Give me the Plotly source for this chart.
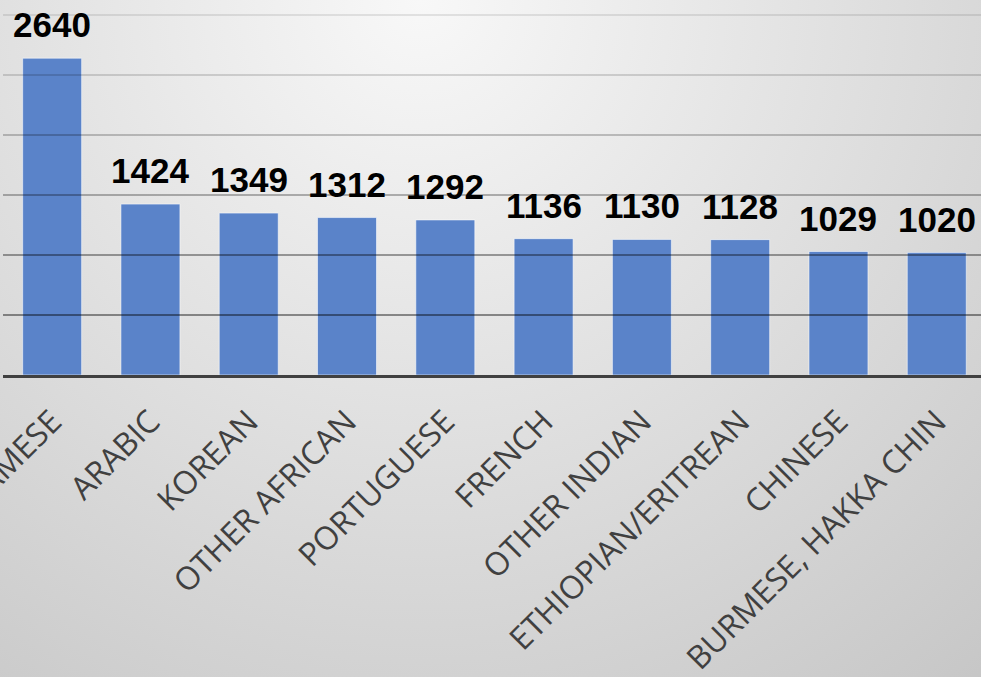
import base64
import plotly.graph_objects as go

# Requests by language
languages = [
    "VIETNAMESE", "ARABIC", "KOREAN", "OTHER AFRICAN", "PORTUGUESE",
    "FRENCH", "OTHER INDIAN", "ETHIOPIAN/ERITREAN", "CHINESE", "BURMESE, HAKKA CHIN",
]
requests = [2640, 1424, 1349, 1312, 1292, 1136, 1130, 1128, 1029, 1020]

# Value-axis gridline positions
grid_values = [500, 1000, 1500, 2000, 2500, 3000]
grid_alpha = [0.42, 0.36, 0.28, 0.21, 0.14, 0.09]

W, H = 981, 677
ML, MR, MT, MB = 3, 0, 0, 302
PW, PH = W - ML - MR, H - MT - MB

# soft grey radial backdrop
svg = f"""<svg xmlns='http://www.w3.org/2000/svg' width='{W}' height='{H}'>
<defs><radialGradient id='g' gradientUnits='userSpaceOnUse' cx='420' cy='0' r='1000'>
<stop offset='0' stop-color='#f8f8f8'/><stop offset='1' stop-color='#c0c0c0'/>
</radialGradient></defs><rect width='{W}' height='{H}' fill='url(#g)'/></svg>"""
bg_uri = "data:image/svg+xml;base64," + base64.b64encode(svg.encode()).decode()

fig = go.Figure(
    go.Bar(
        x=list(range(len(languages))),
        y=requests,
        width=0.6,
        marker=dict(color="#5a83c9", line=dict(color="rgba(255,255,255,0.55)", width=1)),
        hoverinfo="skip",
    )
)

for i, v in enumerate(requests):
    fig.add_annotation(
        x=i, y=v, text=f"<b>{v}</b>", showarrow=False, yanchor="bottom", yshift=12,
        font=dict(family="Liberation Sans", size=35, color="#000000"),
    )

for gv, a in zip(grid_values, grid_alpha):
    fig.add_shape(
        type="line", xref="paper", x0=0, x1=1, yref="y", y0=gv, y1=gv,
        line=dict(color=f"rgba(0,0,0,{a})", width=2), layer="above",
    )

fig.add_layout_image(
    source=bg_uri, xref="paper", yref="paper",
    x=-ML / PW, y=1 + MT / PH, sizex=W / PW, sizey=H / PH,
    xanchor="left", yanchor="top", sizing="stretch", layer="below",
)

fig.update_layout(
    width=W, height=H,
    margin=dict(l=ML, r=MR, t=MT, b=MB),
    paper_bgcolor="rgba(0,0,0,0)",
    plot_bgcolor="rgba(0,0,0,0)",
    showlegend=False,
    xaxis=dict(
        range=[-0.5, 9.45],
        tickmode="array",
        tickvals=list(range(len(languages))),
        ticktext=languages,
        tickangle=-45,
        tickfont=dict(family="Open Sans", size=32, color="#404040"),
        ticklabeloverflow="allow",
        ticklabelstandoff=12,
        showline=True, linecolor="#404040", linewidth=3,
        showgrid=False, ticks="", zeroline=False,
        automargin=False,
        layer="above traces",
    ),
    yaxis=dict(
        range=[0, PH / 0.12],
        showgrid=False, zeroline=False, showticklabels=False, ticks="",
        automargin=False,
    ),
)

fig.write_html("out.html")
